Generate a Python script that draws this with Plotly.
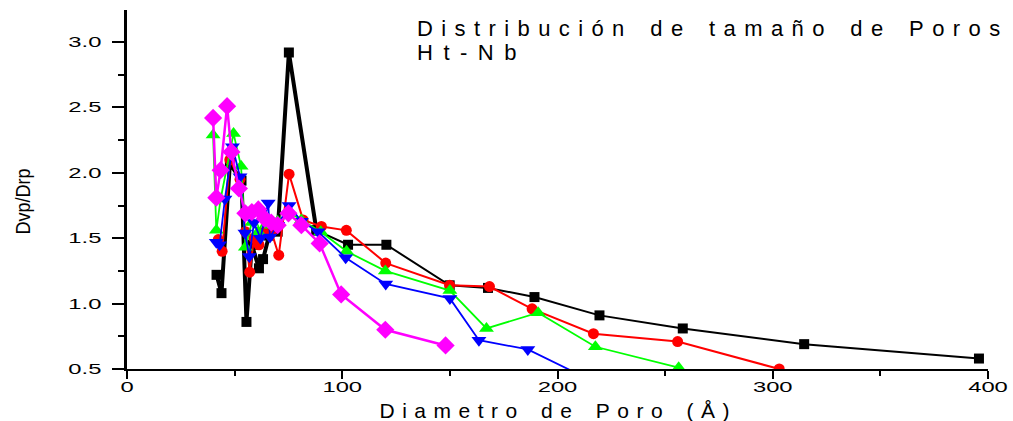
import plotly.graph_objects as go

# Black series (squares)
black_x = [41.6, 43.9, 47.8, 53.2, 55.5, 58, 61.3, 63.2, 66, 70, 75.2, 88, 102.7, 120.5, 149.9, 167.7, 189.3, 219.5, 258.2, 314.6, 395.8]
black_y = [1.22, 1.08, 2.07, 1.94, 0.86, 1.45, 1.27, 1.34, 1.52, 1.55, 2.92, 1.56, 1.45, 1.45, 1.14, 1.12, 1.05, 0.91, 0.81, 0.69, 0.58]

# Red series (circles)
red_x = [42.4, 44.2, 47.8, 52.5, 55, 57, 59, 61.3, 64, 67.1, 70.5, 75.3, 81.8, 90.3, 101.9, 120.2, 149.9, 168.4, 188.2, 216.7, 255.8, 303]
red_y = [1.49, 1.40, 2.10, 1.95, 1.55, 1.24, 1.50, 1.45, 1.55, 1.55, 1.37, 1.99, 1.64, 1.59, 1.56, 1.31, 1.14, 1.13, 0.96, 0.77, 0.71, 0.50]

# Green series (triangles up)
green_x = [40, 41.5, 43.5, 49.5, 53, 55, 58, 61, 64, 67, 70, 75, 81, 90, 102, 120, 150, 167, 191, 217.6, 256.3]
green_y = [2.29, 1.56, 1.80, 2.30, 2.05, 1.43, 1.62, 1.55, 1.65, 1.60, 1.63, 1.70, 1.64, 1.55, 1.40, 1.25, 1.10, 0.81, 0.93, 0.67, 0.51]

# Blue series (triangles down)
blue_x = [41.5, 43, 45.5, 49, 52.5, 54.8, 56.8, 59, 62, 65.6, 66.4, 70, 75.3, 81, 88.8, 101.6, 120.2, 150, 163.5, 186.2, 216]
blue_y = [1.47, 1.45, 1.80, 2.20, 1.97, 1.54, 1.36, 1.62, 1.50, 1.77, 1.51, 1.60, 1.75, 1.63, 1.55, 1.35, 1.15, 1.04, 0.72, 0.65, 0.41]

# Magenta series (diamonds)
mag_x = [40, 41.5, 43.5, 46.5, 48.5, 52, 55, 58, 61, 64, 67, 70, 75, 81, 89.5, 99.5, 120, 148]
mag_y = [2.42, 1.81, 2.02, 2.51, 2.16, 1.88, 1.69, 1.70, 1.72, 1.65, 1.62, 1.60, 1.69, 1.60, 1.46, 1.07, 0.80, 0.68]

x_ticks = [0, 100, 200, 300, 400]
y_ticks = [0.5, 1.0, 1.5, 2.0, 2.5, 3.0]

title_line1 = "Distribución de tamaño de Poros"
title_line2 = "Ht-Nb"
x_title = "Diametro de Poro (Å)"
y_title = "Dvp/Drp"

fig = go.Figure()

split = 12  # black line drawn thick for the first part
fig.add_trace(go.Scatter(x=black_x[:split], y=black_y[:split], mode="lines+markers",
                         line=dict(color="black", width=4),
                         marker=dict(symbol="square", size=10, color="black"), showlegend=False))
fig.add_trace(go.Scatter(x=black_x[split - 1:], y=black_y[split - 1:], mode="lines+markers",
                         line=dict(color="black", width=2),
                         marker=dict(symbol="square", size=10, color="black"), showlegend=False))
fig.add_trace(go.Scatter(x=red_x, y=red_y, mode="lines+markers",
                         line=dict(color="#ff0000", width=2),
                         marker=dict(symbol="circle", size=11, color="#ff0000"), showlegend=False))
fig.add_trace(go.Scatter(x=green_x, y=green_y, mode="lines+markers",
                         line=dict(color="#00ff00", width=1.8),
                         marker=dict(symbol="triangle-up", size=13, color="#00ff00"), showlegend=False))
fig.add_trace(go.Scatter(x=blue_x, y=blue_y, mode="lines+markers",
                         line=dict(color="#0000ff", width=1.8),
                         marker=dict(symbol="triangle-down", size=13, color="#0000ff"), showlegend=False))
fig.add_trace(go.Scatter(x=mag_x, y=mag_y, mode="lines+markers",
                         line=dict(color="#ff00ff", width=2.5),
                         marker=dict(symbol="diamond", size=14, color="#ff00ff"), showlegend=False))

fig.update_layout(
    width=1013, height=421,
    margin=dict(l=127, r=25, t=10, b=52),
    paper_bgcolor="white", plot_bgcolor="white",
    font=dict(family="Liberation Sans, Arial, sans-serif", color="black"),
    xaxis=dict(range=[0, 400], tickvals=x_ticks, ticktext=[str(v) for v in x_ticks],
               showgrid=False, zeroline=False, showline=True, linecolor="black", linewidth=1.5,
               ticks="outside", ticklen=8, tickwidth=1.5, tickcolor="black",
               tickfont=dict(size=14),
               minor=dict(ticks="outside", ticklen=5, tickwidth=1.5, tickcolor="black", dtick=50, showgrid=False)),
    yaxis=dict(range=[0.5, 3.245], tickvals=y_ticks, ticktext=["%.1f" % v for v in y_ticks],
               showgrid=False, zeroline=False, showline=True, linecolor="black", linewidth=2.5,
               ticks="outside", ticklen=12, tickwidth=1.5, tickcolor="black",
               tickfont=dict(size=14), ticklabelstandoff=8,
               minor=dict(ticks="outside", ticklen=6, tickwidth=1.5, tickcolor="black", dtick=0.25, showgrid=False)),
)

def py(p):
    return (369 - p) / 359.0

fig.add_annotation(text=title_line1, xref="paper", yref="paper",
                   x=(415 - 127) / 861, y=py(29), xanchor="left", yanchor="middle",
                   align="left", showarrow=False, font=dict(size=22))
fig.add_annotation(text=title_line2, xref="paper", yref="paper",
                   x=(415 - 127) / 861, y=py(52), xanchor="left", yanchor="middle",
                   align="left", showarrow=False, font=dict(size=22))
fig.add_annotation(text=x_title, xref="paper", yref="paper",
                   x=0.5, y=py(410), xanchor="center", yanchor="middle", showarrow=False,
                   font=dict(size=21))
fig.add_annotation(text=y_title, xref="paper", yref="paper",
                   x=(23 - 127) / 861, y=py(202), xanchor="center", yanchor="middle", showarrow=False,
                   textangle=-90, font=dict(size=21))

post = """
var gd = document.getElementById('{plot_id}');
function sp(el, l, w) { if (!el) return; el.style.letterSpacing = l + 'px'; if (w) el.style.wordSpacing = w + 'px'; }
function sx(el, s, dy) {
  if (!el) return;
  var x = parseFloat(el.getAttribute('x')) || 0, y = parseFloat(el.getAttribute('y')) || 0;
  var t = el.getAttribute('transform') || '';
  el.setAttribute('transform', t + ' translate(' + x + ',' + (y + (dy || 0)) + ') scale(' + s + ',1) translate(' + (-x) + ',' + (-y) + ')');
}
var anns = gd.querySelectorAll('.annotation-text');
sp(anns[0], 8.4, 3);
sp(anns[1], 10.5, 0);
sp(anns[2], 7.5, 3);
sx(anns[3], 0.86, 0);
gd.querySelectorAll('.xtick text').forEach(function(e){ sx(e, 1.7, -4); });
gd.querySelectorAll('.ytick text').forEach(function(e){ sx(e, 1.7, 0); });
"""

fig.write_html("out.html", post_script=post)
